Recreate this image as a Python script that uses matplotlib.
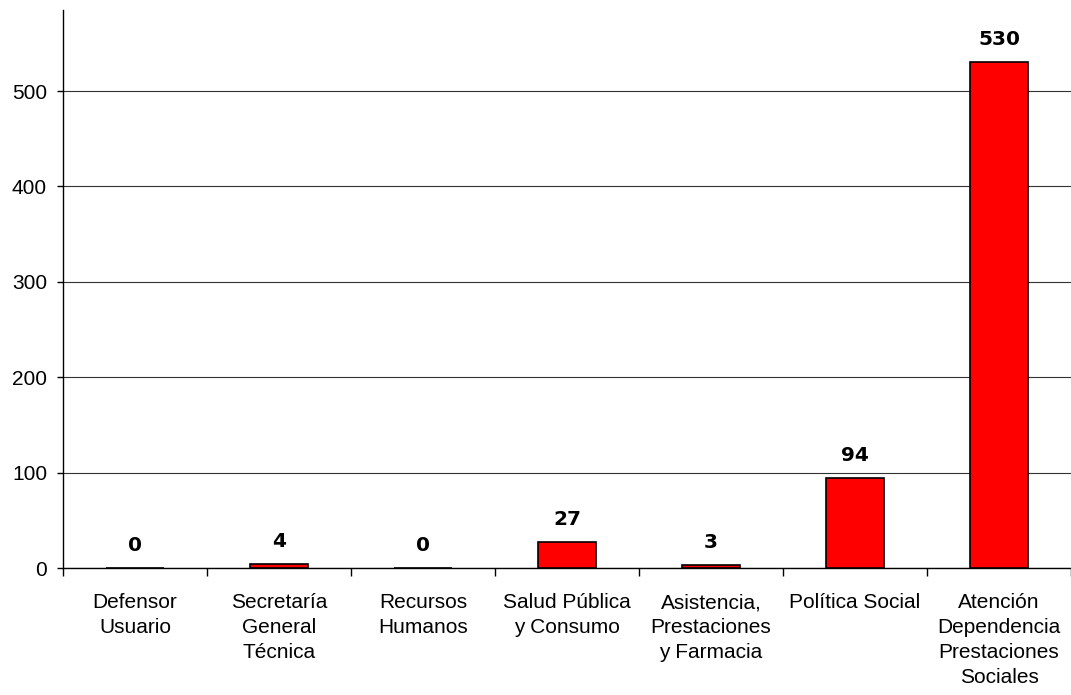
import matplotlib
matplotlib.use("Agg")
import matplotlib.pyplot as plt
import numpy as np

categories = ["Defensor\nUsuario", "Secretaría\nGeneral\nTécnica", "Recursos\nHumanos",
              "Salud Pública\ny Consumo", "Asistencia,\nPrestaciones\ny Farmacia",
              "Política Social", "Atención\nDependencia\nPrestaciones\nSociales"]
values = [0, 4, 0, 27, 3, 94, 530]
yticks = [0, 100, 200, 300, 400, 500]

plt.rcParams["font.family"] = ["Liberation Sans", "DejaVu Sans"]

fig = plt.figure(figsize=(10.71, 6.95), dpi=100)
ax = fig.add_axes([0.0588, 0.1827, 0.9412, 0.8029])

x = np.arange(len(categories))
ax.bar(x, values, width=0.4, color="#ff0000", edgecolor="black", linewidth=1.2, zorder=3)

# value labels above each bar
for xi, v in zip(x, values):
    ax.annotate(str(v), (xi, v), xytext=(0, 16.5), textcoords="offset points",
                ha="center", va="center", fontsize=14.5, fontweight="heavy",
                family=["DejaVu Sans"])

ax.set_xlim(-0.5, len(categories) - 0.5)
ax.set_ylim(0, 585)
ax.set_yticks(yticks)
ax.tick_params(axis="y", labelsize=15, length=4.5, width=1, pad=7)
ax.yaxis.grid(True, color="#333333", linewidth=0.8, zorder=0)

ax.set_xticks(x)
ax.set_xticklabels(categories, fontsize=15, linespacing=1.4)
ax.tick_params(axis="x", length=0, pad=18)
ax.set_xticks(np.arange(len(categories) + 1) - 0.5, minor=True)
ax.tick_params(axis="x", which="minor", length=6, width=1)

for s in ["top", "right"]:
    ax.spines[s].set_visible(False)
ax.spines["left"].set_linewidth(1)
ax.spines["bottom"].set_linewidth(1)

fig.savefig("out.png", dpi=100)
